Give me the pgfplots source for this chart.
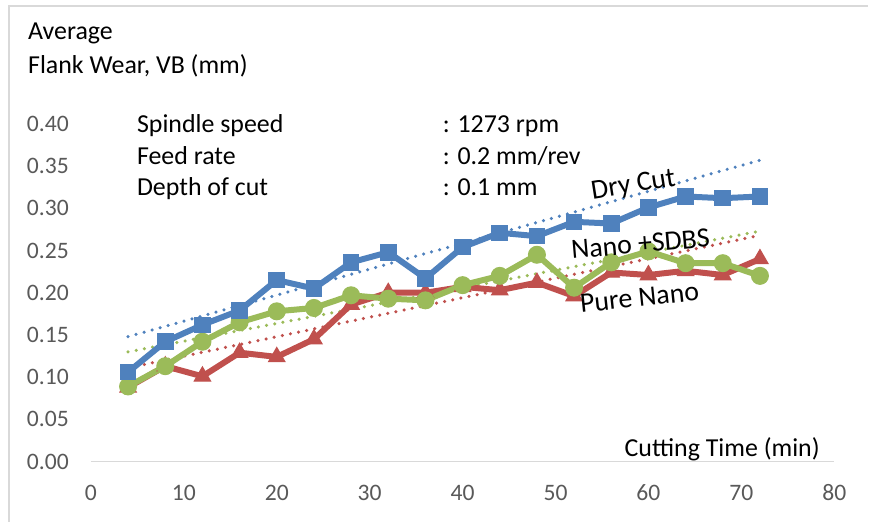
\documentclass[border=0pt]{standalone}
\usepackage{fontspec}
\setmainfont{Carlito}
\usepackage{pgfplots}
\usepackage{pgfplotstable}
\pgfplotsset{compat=1.18}
\definecolor{xlBlue}{HTML}{4F81BD}
\definecolor{xlRed}{HTML}{C0504D}
\definecolor{xlGreen}{HTML}{9BBB59}
\definecolor{tickgray}{HTML}{595959}
\definecolor{linegray}{HTML}{D9D9D9}

% average flank wear VB (mm) against cutting time (min)
\pgfplotstableread{
x  dry    sdbs   pure
4  0.106  0.089  0.088
8  0.142  0.113  0.113
12 0.162  0.142  0.101
16 0.179  0.165  0.129
20 0.215  0.178  0.124
24 0.205  0.182  0.145
28 0.236  0.197  0.186
32 0.248  0.193  0.200
36 0.217  0.191  0.200
40 0.254  0.209  0.207
44 0.271  0.220  0.203
48 0.267  0.245  0.212
52 0.284  0.206  0.196
56 0.282  0.236  0.224
60 0.301  0.249  0.221
64 0.314  0.235  0.226
68 0.312  0.235  0.221
72 0.314  0.220  0.240
}\wear

% linear trendlines, end points
\pgfplotstableread{
x  dry    sdbs   pure
4  0.148  0.130  0.111
72 0.357  0.273  0.268
}\trend

\newcommand{\txt}{\fontsize{26}{31}\selectfont}
\newcommand{\lbl}{\fontsize{28}{33}\selectfont}

\begin{document}
\begin{tikzpicture}
\path (0,0) rectangle (869bp,522bp);
\draw[linegray, line width=1.5bp] (9bp,0) -- (9bp,516bp) -- (869bp,516bp);

\begin{axis}[
    at={(91bp,60bp)}, anchor=south west,
    scale only axis, width=744bp, height=338bp,
    xmin=0, xmax=80, ymin=0, ymax=0.4,
    xtick={0,10,20,30,40,50,60,70,80},
    ytick={0,0.05,0.1,0.15,0.2,0.25,0.3,0.35,0.4},
    axis lines=left,
    axis line style={-},
    x axis line style={linegray, line width=1.5bp},
    y axis line style={draw=none},
    major tick length=0pt,
    tick label style={font=\fontsize{23.7}{28}\selectfont, text=tickgray, inner sep=0pt},
    /pgf/number format/assume math mode=true,
    xticklabel style={anchor=north, yshift=-23bp},
    yticklabel style={anchor=east, xshift=-22bp,
        /pgf/number format/.cd, fixed, fixed zerofill, precision=2},
    clip=false,
    trend/.style={line width=3.5bp, line cap=round, dash pattern=on 0bp off 8.3bp},
]
\addplot[xlBlue, trend] table[x=x, y=dry] {\trend};
\addplot[xlGreen, trend] table[x=x, y=sdbs] {\trend};
\addplot[xlRed, trend] table[x=x, y=pure] {\trend};

\addplot[xlRed, line width=6bp, mark=triangle*, mark size=9.5bp,
    mark options={line width=1bp}] table[x=x, y=pure] {\wear};
\addplot[xlGreen, line width=6bp, mark=*, mark size=8.5bp,
    mark options={line width=1bp}] table[x=x, y=sdbs] {\wear};
\addplot[xlBlue, line width=6bp, mark=square*, mark size=7.8bp,
    mark options={line width=1bp}] table[x=x, y=dry] {\wear};
\end{axis}

\node[anchor=base west, inner sep=0pt] at (28bp,482bp) {\txt Average};
\node[anchor=base west, inner sep=0pt] at (28bp,448bp) {\txt Flank Wear, VB (mm)};

\node[anchor=base west, inner sep=0pt] at (137bp,389bp) {\txt Spindle speed};
\node[anchor=base west, inner sep=0pt] at (137bp,357bp) {\txt Feed rate};
\node[anchor=base west, inner sep=0pt] at (137bp,326bp) {\txt Depth of cut};
\node[anchor=base west, inner sep=0pt] at (443bp,389bp) {\txt : 1273 rpm};
\node[anchor=base west, inner sep=0pt] at (443bp,357bp) {\txt : 0.2 mm/rev};
\node[anchor=base west, inner sep=0pt] at (443bp,326bp) {\txt : 0.1 mm};

\node[anchor=base west, inner sep=0pt] at (625bp,65bp) {\txt Cutting Time (min)};

\node[rotate=9, inner sep=0pt] at (634bp,336bp) {\lbl Dry Cut};
\node[rotate=5, inner sep=0pt] at (641bp,278bp) {\lbl Nano +SDBS};
\node[rotate=6, inner sep=0pt] at (640bp,224bp) {\lbl Pure Nano};
\end{tikzpicture}
\end{document}
